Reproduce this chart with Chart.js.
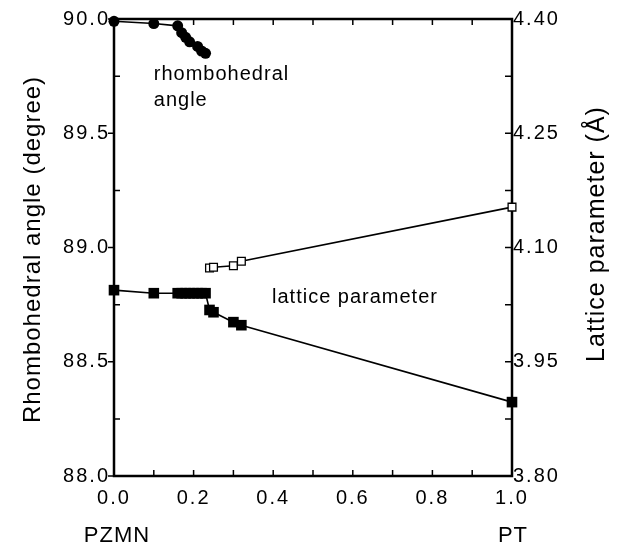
<!DOCTYPE html>
<html>
<head>
<meta charset="utf-8">
<script src="https://cdn.jsdelivr.net/npm/chart.js@4.4.1/dist/chart.umd.min.js"></script>
<style>
  html, body { margin: 0; padding: 0; background: #fff; }
</style>
</head>
<body>
<canvas id="chart" width="626" height="551"></canvas>
<script>
// composition axis (PT fraction)
const xTicksStep = 0.1;

// rhombohedral angle (degree), filled circles
const xAngle = [0, 0.10, 0.16, 0.17, 0.18, 0.19, 0.21, 0.22, 0.23];
const angle  = [89.99, 89.98, 89.97, 89.94, 89.92, 89.90, 89.88, 89.86, 89.85];

// lattice parameter a (Å), filled squares
const xLatA = [0, 0.10, 0.16, 0.17, 0.18, 0.19, 0.20, 0.21, 0.22, 0.23, 0.24, 0.25, 0.30, 0.32, 1.0];
const latA  = [4.044, 4.040, 4.040, 4.040, 4.040, 4.040, 4.040, 4.040, 4.040, 4.040, 4.018, 4.015, 4.002, 3.998, 3.897];

// lattice parameter c (Å), open squares
const xLatC = [0.24, 0.25, 0.30, 0.32, 1.0];
const latC  = [4.073, 4.074, 4.076, 4.082, 4.153];

const FONT = '"Liberation Sans", Arial, Helvetica, sans-serif';

const pts = (xs, ys) => xs.map((x, i) => ({ x: x, y: ys[i] }));

// cadre + graduations vers l'intérieur, textes
const framePlugin = {
    id: 'frame',
    beforeDraw(chart) {
        chart.ctx.letterSpacing = '2px';
    },
    beforeDatasetsDraw(chart) {
        const { ctx, chartArea: a, scales } = chart;
        ctx.save();
        ctx.strokeStyle = '#000';
        ctx.lineWidth = 1.5;
        ctx.beginPath();
        scales.x.ticks.forEach(t => {
            const px = scales.x.getPixelForValue(t.value);
            ctx.moveTo(px, a.top); ctx.lineTo(px, a.top + 6);
            ctx.moveTo(px, a.bottom); ctx.lineTo(px, a.bottom - 6);
        });
        scales.y.ticks.forEach((t, i) => {
            const py = scales.y.getPixelForValue(t.value);
            if (i % 2 === 0) { ctx.moveTo(a.left - 6, py); ctx.lineTo(a.left, py); }
            else { ctx.moveTo(a.left, py); ctx.lineTo(a.left + 6, py); }
        });
        scales.y2.ticks.forEach(t => {
            const py = scales.y2.getPixelForValue(t.value);
            ctx.moveTo(a.right, py); ctx.lineTo(a.right - 7, py);
        });
        ctx.stroke();
        ctx.lineWidth = 2.5;
        ctx.strokeRect(a.left, a.top, a.right - a.left, a.bottom - a.top);
        ctx.restore();
    },
    afterDraw(chart) {
        const { ctx, chartArea: a, scales } = chart;
        ctx.save();
        ctx.fillStyle = '#000';
        ctx.textBaseline = 'middle';

        // axis titles
        ctx.letterSpacing = '1px';
        ctx.font = '24px ' + FONT;
        ctx.textAlign = 'center';
        ctx.save();
        ctx.translate(33, (a.top + a.bottom) / 2 + 2);
        ctx.rotate(-Math.PI / 2);
        ctx.fillText('Rhombohedral angle (degree)', 0, 0);
        ctx.restore();
        ctx.font = '25px ' + FONT;
        ctx.save();
        ctx.translate(597, 234);
        ctx.rotate(-Math.PI / 2);
        ctx.fillText('Lattice parameter (Å)', 0, 0);
        ctx.restore();

        // end members
        ctx.font = '22px ' + FONT;
        ctx.fillText('PZMN', scales.x.getPixelForValue(0) + 3, 536);
        ctx.fillText('PT', scales.x.getPixelForValue(1) + 1, 536);

        // annotations
        ctx.font = '20px ' + FONT;
        ctx.textAlign = 'left';
        ctx.fillText('rhombohedral', scales.x.getPixelForValue(0.1), scales.y.getPixelForValue(89.755));
        ctx.fillText('angle', scales.x.getPixelForValue(0.1), scales.y.getPixelForValue(89.645));
        ctx.fillText('lattice parameter', scales.x.getPixelForValue(0.397), scales.y.getPixelForValue(88.78));
        ctx.restore();
    }
};

const tickFont = { family: FONT, size: 20 };

new Chart(document.getElementById('chart'), {
    type: 'line',
    data: {
        datasets: [
            {
                label: 'rhombohedral angle',
                data: pts(xAngle, angle),
                yAxisID: 'y',
                borderColor: '#000',
                borderWidth: 1.6,
                backgroundColor: '#000',
                pointStyle: 'circle',
                pointRadius: 5.5,
                pointBorderWidth: 0,
                clip: false,
            },
            {
                label: 'a',
                data: pts(xLatA, latA),
                yAxisID: 'y2',
                borderColor: '#000',
                borderWidth: 1.6,
                backgroundColor: '#000',
                pointStyle: 'rect',
                pointRadius: 7.5,
                pointBorderWidth: 0,
                clip: false,
            },
            {
                label: 'c',
                data: pts(xLatC, latC),
                yAxisID: 'y2',
                borderColor: '#000',
                borderWidth: 1.6,
                pointBackgroundColor: '#fff',
                pointBorderColor: '#000',
                pointStyle: 'rect',
                pointRadius: 5.5,
                pointBorderWidth: 1.3,
                clip: false,
            },
        ]
    },
    options: {
        responsive: false,
        animation: false,
        events: [],
        layout: { padding: { top: 19, left: 0, right: 0, bottom: 0 } },
        elements: { line: { tension: 0 } },
        plugins: { legend: { display: false }, tooltip: { enabled: false } },
        scales: {
            x: {
                type: 'linear',
                min: 0, max: 1,
                grid: { display: false, drawTicks: false },
                border: { display: false },
                ticks: {
                    stepSize: xTicksStep,
                    autoSkip: false,
                    maxRotation: 0,
                    padding: 10,
                    color: '#000',
                    font: tickFont,
                    callback: (v, i) => i % 2 === 0 ? v.toFixed(1) : '',
                },
                afterFit: s => { s.height = 75; },
            },
            y: {
                position: 'left',
                min: 88, max: 90,
                grid: { display: false, drawTicks: false },
                border: { display: false },
                ticks: {
                    stepSize: 0.25,
                    autoSkip: false,
                    padding: 4,
                    color: '#000',
                    font: tickFont,
                    callback: (v, i) => i % 2 === 0 ? v.toFixed(1) : '',
                },
                afterFit: s => { s.width = 114; },
            },
            y2: {
                position: 'right',
                min: 3.80, max: 4.40,
                grid: { display: false, drawTicks: false },
                border: { display: false },
                ticks: {
                    stepSize: 0.075,
                    autoSkip: false,
                    padding: 1,
                    color: '#000',
                    font: tickFont,
                    callback: (v, i) => i % 2 === 0 ? v.toFixed(2) : '',
                },
                afterFit: s => { s.width = 114; },
            },
        }
    },
    plugins: [framePlugin]
});
</script>
</body>
</html>
